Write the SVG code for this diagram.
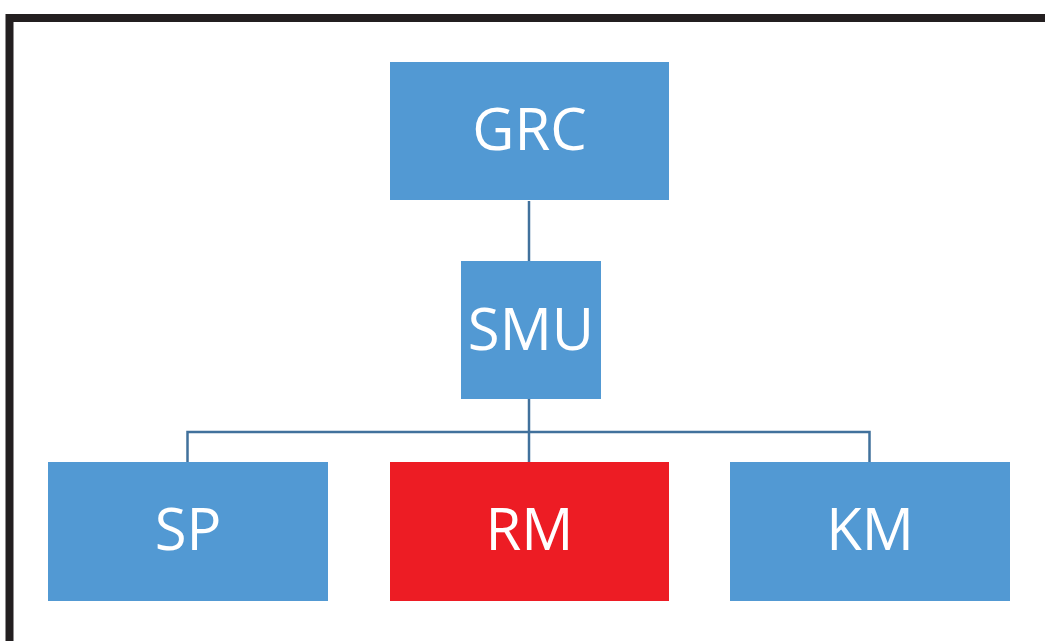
<svg xmlns="http://www.w3.org/2000/svg" width="1045" height="641" viewBox="0 0 1045 641">
<style>
.box{fill:#5299d3}
.red{fill:#ed1c24}
.lbl{font-family:"Open Sans","Noto Sans",sans-serif;font-size:58px;fill:#ffffff;text-anchor:middle}
.con{stroke:#41719c;stroke-width:2.5;fill:none}
</style>
<rect width="1045" height="641" fill="#ffffff"/>
<path d="M9.5,660 V18 H1060" fill="none" stroke="#231f20" stroke-width="8"/>
<g id="connectors">
<line class="con" x1="529" y1="201" x2="529" y2="261"/>
<line class="con" x1="529" y1="399" x2="529" y2="462"/>
<polyline class="con" points="187.5,462 187.5,432 869.5,432 869.5,462"/>
</g>
<g id="GRC"><rect class="box" x="390" y="62" width="279" height="138"/><text class="lbl" x="529.5" y="150">GRC</text></g>
<g id="SMU"><rect class="box" x="461" y="261" width="140" height="138"/><text class="lbl" x="531" y="350">SMU</text></g>
<g id="SP"><rect class="box" x="48" y="462" width="280" height="139"/><text class="lbl" x="188" y="550">SP</text></g>
<g id="RM"><rect class="red" x="390" y="462" width="279" height="139"/><text class="lbl" x="529.5" y="550">RM</text></g>
<g id="KM"><rect class="box" x="730" y="462" width="280" height="139"/><text class="lbl" x="870" y="550">KM</text></g>
</svg>
